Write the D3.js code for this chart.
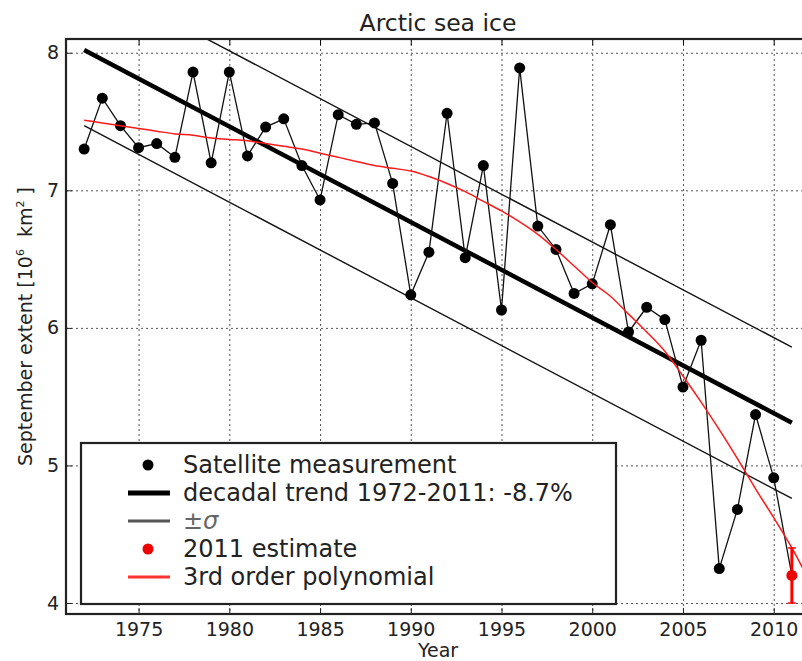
<!DOCTYPE html>
<html>
<head>
<meta charset="utf-8">
<script src="https://cdn.jsdelivr.net/npm/d3@7"></script>
<style>
  body { margin: 0; background: #fff; }
  svg { display: block; font-family: "DejaVu Sans", sans-serif; }
</style>
</head>
<body>
<div id="chart"></div>
<script>
// satellite measurements, September extent (10^6 km^2)
const years = d3.range(1972, 2012);
const extent = [7.30, 7.67, 7.47, 7.31, 7.34, 7.24, 7.86, 7.20, 7.86, 7.25,
                7.46, 7.52, 7.18, 6.93, 7.55, 7.48, 7.49, 7.05, 6.24, 6.55,
                7.56, 6.51, 7.18, 6.13, 7.89, 6.74, 6.57, 6.25, 6.32, 6.75,
                5.97, 6.15, 6.06, 5.57, 5.91, 4.25, 4.68, 5.37, 4.91, 4.20];

// 2011 estimate with its error bar
const estYear = 2011;
const estValue = 4.20;
const estLow = 4.00;
const estHigh = 4.40;

// decadal trend and +/- sigma band
const trendYears = [1972, 2011];
const trendValues = [8.02, 5.31];
const sigma = 0.55;

// 3rd order polynomial, read per year
const polyYears = d3.range(1972, 2013);
const polyValues = [7.51, 7.49, 7.47, 7.45, 7.43, 7.41, 7.40, 7.38, 7.37, 7.36,
                    7.34, 7.32, 7.30, 7.27, 7.24, 7.21, 7.18, 7.16, 7.14, 7.10,
                    7.05, 6.99, 6.92, 6.85, 6.77, 6.68, 6.57, 6.45, 6.33, 6.23,
                    6.10, 5.97, 5.83, 5.65, 5.46, 5.26, 5.05, 4.83, 4.62, 4.40, 4.15];

const xTicks = [1975, 1980, 1985, 1990, 1995, 2000, 2005, 2010];
const yTicks = [4, 5, 6, 7, 8];

const legendLabels = ['Satellite measurement', 'decadal trend 1972-2011: -8.7%', '\u00B1\u03C3', '2011 estimate', '3rd order polynomial'];

const W = 802, H = 661;
const plot = { left: 66, right: 810, top: 39, bottom: 614 };

const x = d3.scaleLinear().domain([1971, 2012]).range([plot.left, plot.right]);
const y = d3.scaleLinear().domain([3.92, 8.1]).range([plot.bottom, plot.top]);

const svg = d3.select('#chart').append('svg')
  .attr('width', W)
  .attr('height', H);

svg.append('defs').append('clipPath').attr('id', 'clip')
  .append('rect')
  .attr('x', plot.left).attr('y', plot.top)
  .attr('width', plot.right - plot.left).attr('height', plot.bottom - plot.top);

// grid
const grid = svg.append('g').attr('stroke', '#555').attr('stroke-width', 1).attr('stroke-dasharray', '2,3');
grid.selectAll('.vg').data(xTicks).enter().append('line')
  .attr('x1', d => x(d) + 0.5).attr('x2', d => x(d) + 0.5)
  .attr('y1', plot.top).attr('y2', plot.bottom);
grid.selectAll('.hg').data(yTicks).enter().append('line')
  .attr('x1', plot.left).attr('x2', plot.right)
  .attr('y1', d => y(d) + 0.5).attr('y2', d => y(d) + 0.5);

const g = svg.append('g').attr('clip-path', 'url(#clip)');

const line = d3.line().x(d => x(d[0])).y(d => y(d[1]));

// sigma lines
const trendPts = trendYears.map((yr, i) => [yr, trendValues[i]]);
[sigma, -sigma].forEach(s => {
  g.append('path')
    .attr('d', line(trendPts.map(p => [p[0], p[1] + s])))
    .attr('fill', 'none')
    .attr('stroke', '#111')
    .attr('stroke-width', 1.4);
});

// trend
g.append('path')
  .attr('d', line(trendPts))
  .attr('fill', 'none')
  .attr('stroke', '#000')
  .attr('stroke-width', 4.5);

// measurements
const pts = years.map((yr, i) => [yr, extent[i]]);
g.append('path')
  .attr('d', line(pts))
  .attr('fill', 'none')
  .attr('stroke', '#111')
  .attr('stroke-width', 1.3);

g.selectAll('.pt').data(pts.filter(p => p[0] !== estYear)).enter().append('circle')
  .attr('cx', d => x(d[0]))
  .attr('cy', d => y(d[1]))
  .attr('r', 5.5)
  .attr('fill', '#000');

// polynomial
g.append('path')
  .attr('d', line.curve(d3.curveMonotoneX)(polyYears.map((yr, i) => [yr, polyValues[i]])))
  .attr('fill', 'none')
  .attr('stroke', '#ff1a1a')
  .attr('stroke-width', 1.5);
line.curve(d3.curveLinear);

// 2011 estimate
const eb = g.append('g').attr('stroke', '#ff0000').attr('stroke-width', 3);
eb.append('line')
  .attr('x1', x(estYear)).attr('x2', x(estYear))
  .attr('y1', y(estLow)).attr('y2', y(estHigh));
[estLow, estHigh].forEach(v => {
  eb.append('line')
    .attr('x1', x(estYear) - 4).attr('x2', x(estYear) + 4)
    .attr('y1', y(v)).attr('y2', y(v))
    .attr('stroke-width', 1.5);
});
g.append('circle')
  .attr('cx', x(estYear)).attr('cy', y(estValue))
  .attr('r', 5.5).attr('fill', '#ee0000');

// axes with inward ticks
const xAxis = svg.append('g')
  .attr('transform', `translate(0,${plot.bottom})`)
  .call(d3.axisBottom(x).tickValues(xTicks).tickFormat(d3.format('d')).tickSizeInner(-6).tickSizeOuter(0).tickPadding(9));
const yAxis = svg.append('g')
  .attr('transform', `translate(${plot.left},0)`)
  .call(d3.axisLeft(y).tickValues(yTicks).tickFormat(d3.format('d')).tickSizeInner(-6).tickSizeOuter(0).tickPadding(7));
svg.append('g')
  .attr('transform', `translate(0,${plot.top})`)
  .call(d3.axisTop(x).tickValues(xTicks).tickFormat('').tickSizeInner(-6).tickSizeOuter(0));

[xAxis, yAxis].forEach(a => {
  a.selectAll('text').attr('font-size', 19).attr('fill', '#222').attr('font-family', 'DejaVu Sans');
  a.selectAll('line').attr('stroke', '#222');
});
svg.selectAll('.domain').remove();

// spines
svg.append('rect')
  .attr('x', plot.left).attr('y', plot.top)
  .attr('width', plot.right - plot.left).attr('height', plot.bottom - plot.top)
  .attr('fill', 'none')
  .attr('stroke', '#222')
  .attr('stroke-width', 2.2);

// title and labels
svg.append('text')
  .attr('x', (plot.left + plot.right) / 2)
  .attr('y', 31)
  .attr('text-anchor', 'middle')
  .attr('font-size', 23.5)
  .attr('fill', '#222')
  .text('Arctic sea ice');

svg.append('text')
  .attr('x', (plot.left + plot.right) / 2)
  .attr('y', 657)
  .attr('text-anchor', 'middle')
  .attr('font-size', 19)
  .attr('fill', '#222')
  .text('Year');

const yl = svg.append('text')
  .attr('transform', `translate(32,${(plot.top + plot.bottom) / 2}) rotate(-90)`)
  .attr('text-anchor', 'middle')
  .attr('font-size', 19)
  .attr('fill', '#222');
yl.append('tspan').text('September extent [10');
yl.append('tspan').attr('font-size', 11).attr('dy', -8).text('6');
yl.append('tspan').attr('dy', 8).text('\u00A0 km');
yl.append('tspan').attr('font-size', 11).attr('dy', -8).text('2');
yl.append('tspan').attr('dy', 8).text('\u00A0]');

// legend
const legend = svg.append('g');
legend.append('rect')
  .attr('x', 81).attr('y', 443)
  .attr('width', 535).attr('height', 161)
  .attr('fill', '#fff')
  .attr('stroke', '#222')
  .attr('stroke-width', 2.2);

const rows = legend.selectAll('.row').data(legendLabels).enter().append('g')
  .attr('transform', (d, i) => `translate(0,${465 + i * 28})`);

rows.append('text')
  .attr('x', 183)
  .attr('dy', '0.35em')
  .attr('font-size', 24)
  .attr('fill', (d, i) => i === 2 ? '#666' : '#222')
  .attr('font-style', (d, i) => i === 2 ? 'italic' : 'normal')
  .text(d => d);

rows.filter((d, i) => i === 0).append('circle').attr('cx', 148).attr('r', 5.5).attr('fill', '#000');
rows.filter((d, i) => i === 3).append('circle').attr('cx', 148).attr('r', 5.5).attr('fill', '#ee0000');
rows.filter((d, i) => i === 1).append('line').attr('x1', 128).attr('x2', 170).attr('stroke', '#000').attr('stroke-width', 5);
rows.filter((d, i) => i === 2).append('line').attr('x1', 128).attr('x2', 170).attr('stroke', '#555').attr('stroke-width', 3);
rows.filter((d, i) => i === 4).append('line').attr('x1', 128).attr('x2', 170).attr('stroke', '#ff3333').attr('stroke-width', 3);
</script>
</body>
</html>
